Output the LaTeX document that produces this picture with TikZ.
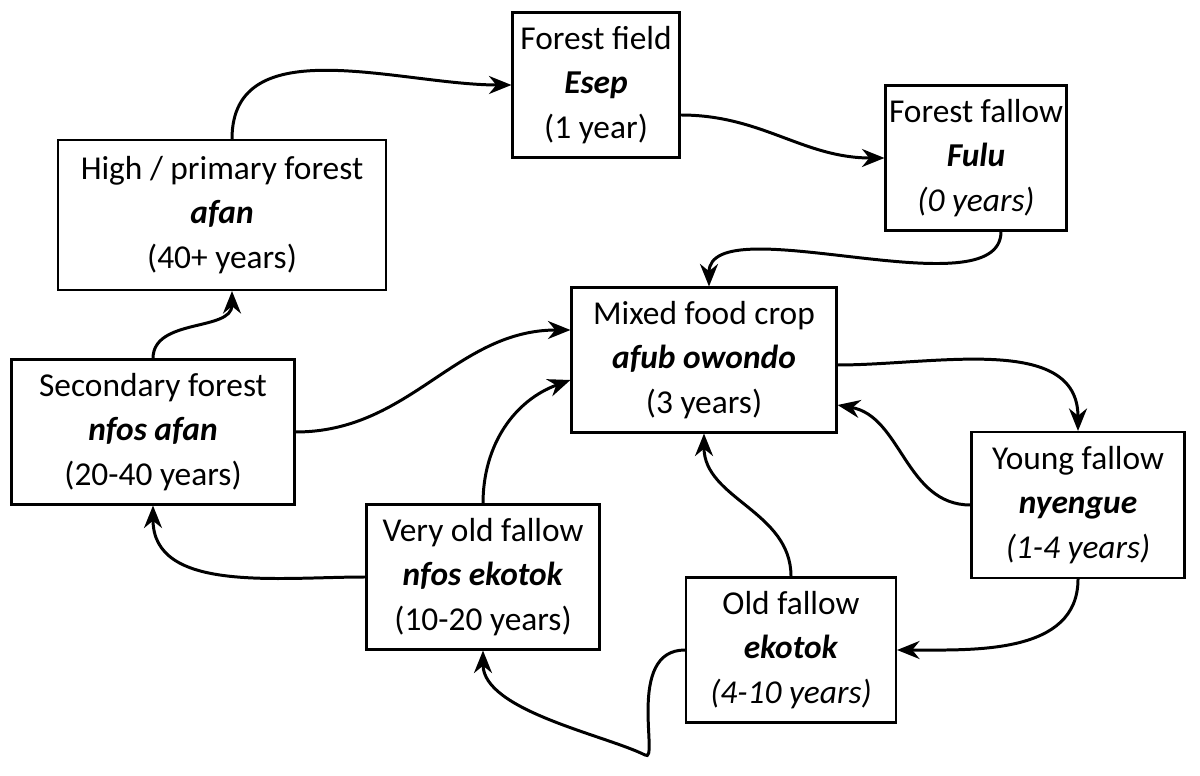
\documentclass[tikz,border=0pt]{standalone}
\usepackage{fontspec}
\setmainfont{Carlito}
\usetikzlibrary{arrows.meta}

\tikzset{
    stage/.style={draw, line width=1.2pt, fill=white, align=center, inner sep=2pt,
        font=\fontsize{19}{25.5}\selectfont},
    flow/.style={-{Stealth[length=4.5mm,width=3.6mm]}, line width=1.7pt}
}

\begin{document}
\begin{tikzpicture}
            \useasboundingbox (0,0) rectangle (24,15.5);

            % boxes
            \node[stage, minimum width=3.34cm, minimum height=2.9cm] (field) at (11.92,13.8) {Forest field\\\textbf{\textit{Esep}}\\(1 year)};
            \node[stage, minimum width=3.34cm, minimum height=2.9cm] (fallowF) at (19.52,12.34) {Forest fallow\\\textbf{\textit{Fulu}}\\\textit{(0 years)}};
            \node[stage, minimum width=6.56cm, minimum height=3.0cm] (primary) at (4.44,11.2) {High / primary forest\\\textbf{\textit{afan}}\\(40+ years)};
            \node[stage, minimum width=5.3cm, minimum height=2.9cm] (mixed) at (14.08,8.3) {Mixed food crop\\\textbf{\textit{afub owondo}}\\(3 years)};
            \node[stage, minimum width=5.66cm, minimum height=2.9cm] (secondary) at (3.06,6.86) {Secondary forest\\\textbf{\textit{nfos afan}}\\(20-40 years)};
            \node[stage, minimum width=4.26cm, minimum height=2.92cm] (young) at (21.56,5.4) {Young fallow\\\textbf{\textit{nyengue}}\\\textit{(1-4 years)}};
            \node[stage, minimum width=4.66cm, minimum height=2.9cm] (veryold) at (9.66,3.96) {Very old fallow\\\textbf{\textit{nfos ekotok}}\\(10-20 years)};
            \node[stage, minimum width=4.2cm, minimum height=2.9cm] (old) at (15.82,2.5) {Old fallow\\\textbf{\textit{ekotok}}\\\textit{(4-10 years)}};

            % cycle arrows
            \draw[flow] ([xshift=0.2cm]primary.north) to[out=90, in=180] (field.west);
            \draw[flow] ([yshift=-0.6cm]field.east) to[out=0, in=180] (fallowF.west);
            \draw[flow] ([xshift=0.5cm]fallowF.south) to[out=-90, in=90, looseness=0.7] ([xshift=0.1cm]mixed.north);
            \draw[flow] ([yshift=-0.1cm]mixed.east) to[out=0, in=90] (young.north);
            \draw[flow] (young.west) to[out=180, in=-10] ([yshift=-0.9cm]mixed.east);
            \draw[flow] (young.south) to[out=-90, in=0] (old.east);
            \draw[flow] (old.north) to[out=90, in=-90] (mixed.south);
            \draw[flow] (old.west) .. controls +(-1.2,0) and +(0.3,-0.2) .. (12.9,0.4) .. controls +(-0.8,0.4) and +(0,-1.2) .. (veryold.south);
            \draw[flow] (veryold.north) to[out=90, in=200] ([yshift=-0.4cm]mixed.west);
            \draw[flow] (veryold.west) to[out=180, in=-90] (secondary.south);
            \draw[flow] (secondary.east) to[out=0, in=180] ([yshift=0.6cm]mixed.west);
            \draw[flow] (secondary.north) to[out=90, in=-90] ([xshift=0.2cm]primary.south);
\end{tikzpicture}
\end{document}
